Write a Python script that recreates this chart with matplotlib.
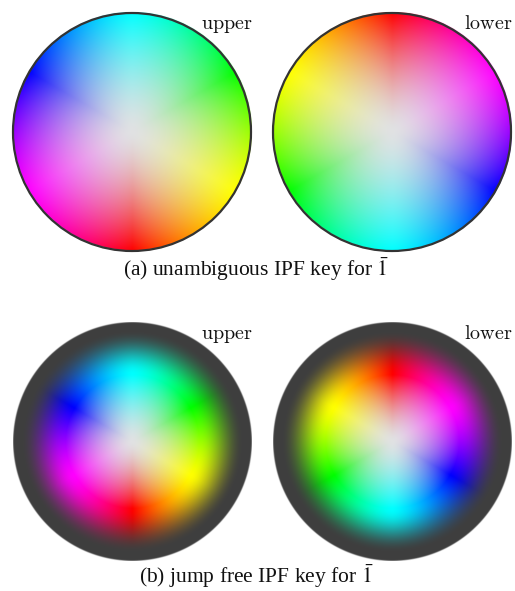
import numpy as np
import matplotlib
matplotlib.use("Agg")
import matplotlib.pyplot as plt
from matplotlib.colors import hsv_to_rgb
from matplotlib.patches import Circle

# Layout in pixel units of the canvas
W, H = 515, 591

# Hemisphere keys: label, azimuth of red on the rim (deg), key type
panel_labels = ["upper", "lower", "upper", "lower"]
red_azimuth = [-90.0, 90.0, -90.0, 90.0]
panel_kind = ["plain", "plain", "jumpfree", "jumpfree"]
panel_centers = [(132, 132), (392, 132), (132, 442), (392, 442)]
panel_radius = 119.5
captions = [r"(a) unambiguous IPF key for $\bar{1}$",
            r"(b) jump free IPF key for $\bar{1}$"]
caption_pos = [(256, 276), (256, 583)]

center_grey = np.array([0.88, 0.885, 0.89])
rim_dark = np.array([0.245, 0.245, 0.245])
gamma_hue = 1.35      # broadens secondary colours, sharpens primaries
white_exp = 1.5       # radial fall-off of the white centre
ring_radius = 0.56    # saturated ring of the jump-free key
fade_end = 0.93


def pure_colour(phi_deg, red_at):
    h = ((phi_deg - red_at) / 360.0) % 1.0
    k = np.floor(h * 3.0)
    t = h * 3.0 - k
    u = 2.0 * t - 1.0
    u = np.sign(u) * np.abs(u) ** gamma_hue
    h2 = ((k + (u + 1.0) / 2.0) / 3.0) % 1.0
    hsv = np.stack([h2, np.ones_like(h2), np.ones_like(h2)], axis=-1)
    return hsv_to_rgb(hsv)


def whiten(pure, rr):
    w = 1.0 - np.clip(rr, 0, 1) ** white_exp
    return pure * (1 - w[..., None]) + center_grey * w[..., None]


def key_image(kind, red_at, n=480, aa_px=1.0):
    s = np.linspace(-1, 1, n)
    x, y = np.meshgrid(s, -s)
    r = np.hypot(x, y)
    phi = np.degrees(np.arctan2(y, x))
    pure = pure_colour(phi, red_at)
    if kind == "plain":
        rgb = whiten(pure, r)
    else:
        inner = whiten(pure, r / ring_radius)
        d = np.clip((r - ring_radius) / (fade_end - ring_radius), 0, 1)
        d = d * d * (3 - 2 * d)
        outer = pure * (1 - d[..., None]) + rim_dark * d[..., None]
        rgb = np.where((r <= ring_radius)[..., None], inner, outer)
    pix = n / (2 * panel_radius)
    alpha = np.clip((1.0 - r) * n / 2 / (aa_px * pix) + 0.5, 0, 1)
    return np.dstack([rgb, alpha])


fig = plt.figure(figsize=(W / 100, H / 100), dpi=100)
ax = fig.add_axes([0, 0, 1, 1])

for label, red_at, kind, (cx, cy) in zip(panel_labels, red_azimuth,
                                         panel_kind, panel_centers):
    img = key_image(kind, red_at)
    R = panel_radius
    ax.imshow(img, extent=(cx - R, cx + R, cy + R, cy - R),
              interpolation="bilinear", zorder=1)
    if kind == "plain":
        ax.add_patch(Circle((cx, cy), R - 0.5, fill=False,
                            edgecolor="#333333", lw=1.6, zorder=2))
    ax.text(cx + 121, cy - 103, r"$\mathrm{%s}$" % label,
            math_fontfamily="cm", fontsize=14.5, ha="right",
            va="baseline", color="#111111", zorder=3)

ax.set_aspect("auto")
ax.set_xlim(0, W)
ax.set_ylim(H, 0)
ax.axis("off")

for text, (tx, ty) in zip(captions, caption_pos):
    ax.text(tx, ty, text, family="Liberation Serif", math_fontfamily="stix",
            fontsize=15.5, ha="center", va="baseline", color="#111111")

fig.savefig("out.png", dpi=100)
